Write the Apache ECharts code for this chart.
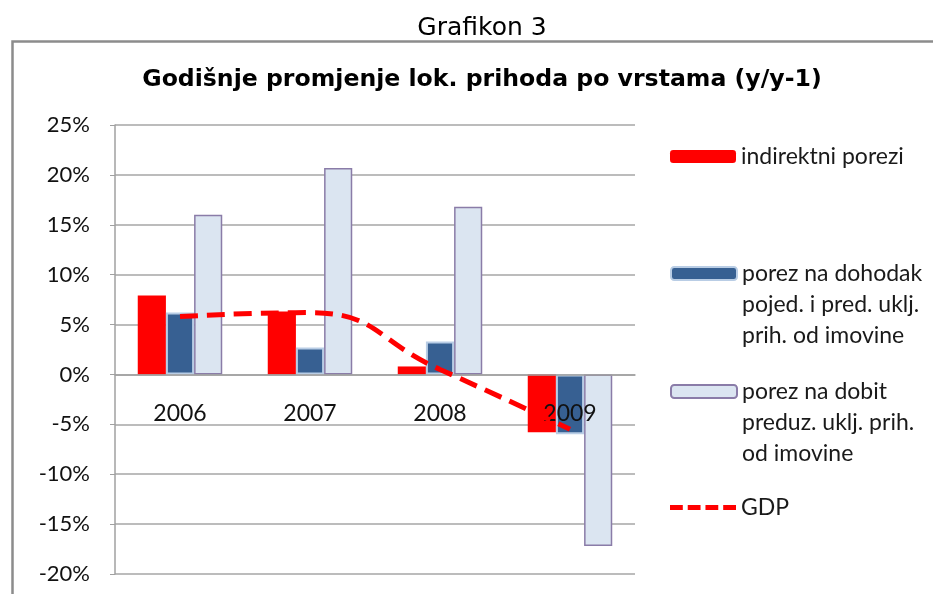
<!DOCTYPE html>
<html>
<head>
<meta charset="utf-8">
<script src="https://cdn.jsdelivr.net/npm/echarts@6/dist/echarts.min.js"></script>
<style>
  html, body { margin: 0; padding: 0; background: #fff; }
  #chart { width: 933px; height: 594px; }
</style>
</head>
<body>
<div id="chart"></div>
<script>
var categories = ['2006', '2007', '2008', '2009'];
var indirektni = [7.9, 6.3, 0.8, -5.8];
var dohodak = [6.2, 2.7, 3.3, -6.0];
var dobit = [16.0, 20.7, 16.8, -17.2];
var gdp = [5.8, 6.2, 0.5, -5.5];

var names = [
  'indirektni porezi',
  'porez na dohodak\npojed. i pred. uklj.\nprih. od imovine',
  'porez na dobit\npreduz. uklj. prih.\nod imovine',
  'GDP'
];

var font = 'Lato';
// dashed legend icon for the GDP line
var dashIcon = 'path://M0,0h13v5h-13z M18,0h13v5h-13z M36,0h13v5h-13z M54,0h13v5h-13z';

function legendAt(name, top, multi, icon) {
  var item = icon ? { name: name, icon: icon } : name;
  return {
    data: [item],
    orient: 'vertical',
    left: 670,
    top: top,
    padding: 0,
    itemWidth: 66,
    itemHeight: 13,
    selectedMode: false,
    formatter: function (n) { return multi ? '\n\n' + n : n; },
    textStyle: {
      fontFamily: font,
      fontSize: 23,
      color: '#1a1a1a',
      lineHeight: 31
    }
  };
}

var myChart = echarts.init(document.getElementById('chart'));
myChart.setOption({
  animation: false,
  title: [{
    text: 'Grafikon 3',
    left: 477,
    textAlign: 'center',
    top: 11,
    textStyle: { fontFamily: 'DejaVu Sans', fontSize: 25, fontWeight: 'normal', color: '#000' }
  }, {
    text: 'Godišnje promjenje lok. prihoda po vrstama (y/y-1)',
    left: 477,
    textAlign: 'center',
    top: 63,
    textStyle: { fontFamily: 'DejaVu Sans', fontSize: 23.6, fontWeight: 'bold', color: '#000' }
  }],
  graphic: [{
    type: 'rect',
    left: 10,
    top: 39,
    shape: { width: 1000, height: 700 },
    style: { fill: 'none', stroke: '#8c8c8c', lineWidth: 2.5 },
    silent: true
  }],
  legend: [
    legendAt(names[0], 141, false),
    legendAt(names[1], 196, true),
    legendAt(names[2], 314, true),
    legendAt(names[3], 492, false, dashIcon)
  ],
  grid: { left: 115, right: 298, top: 125, bottom: 20, outerBoundsMode: 'none' },
  xAxis: {
    type: 'category',
    data: categories,
    z: 3,
    axisLine: { onZero: true, lineStyle: { color: '#a0a0a0', width: 1.5 } },
    axisTick: { show: false },
    // labels sit just under the zero line, as in the source
    axisLabel: { fontFamily: font, fontSize: 23, color: '#111', margin: -172 }
  },
  yAxis: {
    type: 'value',
    min: -20,
    max: 25,
    interval: 5,
    axisLine: { show: true, lineStyle: { color: '#a0a0a0', width: 1.5 } },
    axisTick: { show: true, length: 5, lineStyle: { color: '#a0a0a0' } },
    splitLine: { lineStyle: { color: '#a6a6a6', width: 1.5 } },
    axisLabel: { formatter: '{value}%', fontFamily: font, fontSize: 22, color: '#111', margin: 25 }
  },
  series: [{
    name: names[0],
    type: 'bar',
    data: indirektni,
    barGap: '0%',
    barCategoryGap: '35%',
    itemStyle: { color: '#ff0000' }
  }, {
    name: names[1],
    type: 'bar',
    data: dohodak,
    itemStyle: { color: '#376092', borderColor: '#b9cde5', borderWidth: 2 }
  }, {
    name: names[2],
    type: 'bar',
    data: dobit,
    itemStyle: { color: '#dbe5f1', borderColor: '#8a7ca8', borderWidth: 1.5 }
  }, {
    name: names[3],
    type: 'line',
    data: gdp,
    smooth: 0.5,
    symbol: 'none',
    z: 5,
    lineStyle: { color: '#ff0000', width: 5, type: [18, 9] },
    itemStyle: { color: '#ff0000' }
  }]
});
</script>
</body>
</html>
